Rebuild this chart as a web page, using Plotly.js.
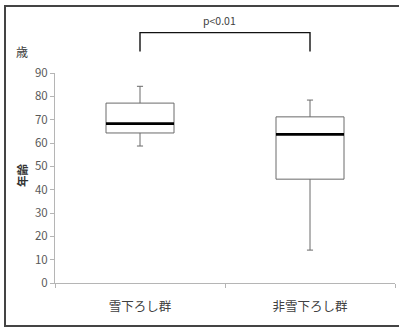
<!DOCTYPE html>
<html>
<head>
<meta charset="utf-8">
<script src="https://cdn.plot.ly/plotly-3.0.1.min.js"></script>
<style>
  html, body { margin: 0; padding: 0; background: #fff; }
  #wrap { position: relative; width: 399px; height: 327px; overflow: hidden; }
  #chart { position: absolute; left: 0; top: 0; width: 399px; height: 327px; }
  #frame { position: absolute; left: 4px; top: 5px; width: 400px; height: 318px;
           border: 2px solid #444; pointer-events: none; }
</style>
</head>
<body>
<div id="wrap">
  <div id="chart"></div>
  <div id="frame"></div>
</div>
<script>
// Data
const categories = ['雪下ろし群', '非雪下ろし群'];
const lowerWhisker = [58.7, 14.1];
const q1 = [64.3, 44.5];
const median = [68.3, 63.7];
const q3 = [77.1, 71.2];
const upperWhisker = [84.3, 78.4];
const yTicks = [0, 10, 20, 30, 40, 50, 60, 70, 80, 90];
const yMax = 90;
const bracketY = [99.2, 107.3];   // bracket leg bottom / top, in years
const pText = 'p<0.01';

const boxWidth = 0.4;
const font = '"Noto Sans CJK JP", "Noto Sans", sans-serif';

const trace = {
  type: 'box',
  x: categories,
  q1: q1,
  median: median,
  q3: q3,
  lowerfence: lowerWhisker,
  upperfence: upperWhisker,
  width: boxWidth,
  whiskerwidth: 0.09,
  fillcolor: 'rgba(255,255,255,0)',
  line: { color: '#6a6a6a', width: 1 },
  hoverinfo: 'skip',
  showlegend: false
};

const shapes = [];
// thick median lines
median.forEach((m, i) => {
  shapes.push({
    type: 'line', xref: 'x', yref: 'y',
    x0: i - boxWidth / 2, x1: i + boxWidth / 2, y0: m, y1: m,
    line: { color: '#000', width: 2.6 }
  });
});
// significance bracket
const pb = bracketY[0] / yMax, pt = bracketY[1] / yMax;
shapes.push({
  type: 'path', xref: 'x', yref: 'paper',
  path: `M 0,${pb} L 0,${pt} L 1,${pt} L 1,${pb}`,
  line: { color: '#111', width: 1.4 }
});

const layout = {
  width: 399, height: 327,
  margin: { l: 55, r: 4, t: 73, b: 44 },
  paper_bgcolor: '#fff', plot_bgcolor: '#fff',
  font: { family: font, color: '#404040', size: 11 },
  xaxis: {
    type: 'category',
    range: [-0.5, 1.5],
    showline: true, linecolor: '#b5b5b5', linewidth: 1,
    ticks: 'outside', tickson: 'boundaries', ticklen: 4, tickcolor: '#b5b5b5',
    tickfont: { size: 12.5, color: '#404040', family: font },
    ticklabelstandoff: 12,
    showgrid: false, zeroline: false, fixedrange: true
  },
  yaxis: {
    range: [0, yMax],
    tickvals: yTicks,
    showline: true, linecolor: '#b5b5b5', linewidth: 1,
    ticks: 'outside', ticklen: 4, tickcolor: '#b5b5b5',
    tickfont: { size: 11.5, color: '#595959', family: font },
    showgrid: false, zeroline: false, fixedrange: true
  },
  shapes: shapes,
  annotations: [
    {
      text: pText, xref: 'x', yref: 'paper', x: 0.47, y: (bracketY[1] / yMax) + 0.06,
      xanchor: 'center', yanchor: 'middle', showarrow: false,
      font: { size: 10.5, color: '#404040', family: font }
    },
    {
      text: '歳', xref: 'paper', yref: 'paper', x: -0.097, y: 1.10,
      xanchor: 'center', yanchor: 'middle', showarrow: false,
      font: { size: 12, color: '#404040', family: font }
    },
    {
      text: '<b>年齢</b>', xref: 'paper', yref: 'paper', x: -0.097, y: 0.514,
      xanchor: 'center', yanchor: 'middle', showarrow: false, textangle: -90,
      font: { size: 11.5, color: '#333', family: font }
    }
  ]
};

Plotly.newPlot('chart', [trace], layout, { staticPlot: true, displayModeBar: false });
</script>
</body>
</html>
